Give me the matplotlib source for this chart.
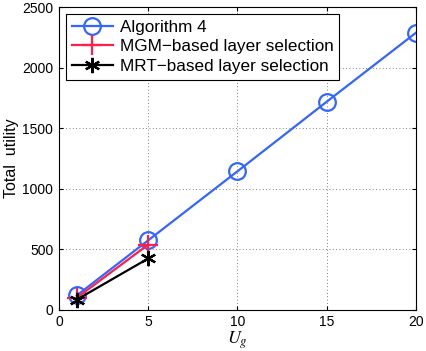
import numpy as np
import matplotlib
matplotlib.use("Agg")
import matplotlib.pyplot as plt

# data
ug_alg = [1, 5, 10, 15, 20]
util_alg = [120, 575, 1145, 1720, 2290]
ug_mgm = [1, 5]
util_mgm = [100, 540]
ug_mrt = [1, 5]
util_mrt = [85, 425]

labels = ["Algorithm 4", "MGM\u2212based layer selection", "MRT\u2212based layer selection"]

plt.rcParams['font.family'] = ['Liberation Sans', 'DejaVu Sans']
plt.rcParams['mathtext.fontset'] = 'stix'

fig = plt.figure(figsize=(4.27, 3.51), dpi=100)
ax = fig.add_axes([0.138, 0.117, 0.836, 0.862])

ax.plot(ug_alg, util_alg, color="#3366ff", lw=1.6, marker="o", ms=12,
        mfc="none", mew=1.6, label=labels[0])
ax.plot(ug_mgm, util_mgm, color="#ff1f4b", lw=1.6, marker="+", ms=14,
        mew=1.6, label=labels[1])
ax.plot(ug_mrt, util_mrt, color="black", lw=1.6, marker=(6, 2, 0), ms=11,
        mew=1.6, label=labels[2])

ax.set_xlim(0, 20)
ax.set_ylim(0, 2500)
ax.set_xticks([0, 5, 10, 15, 20])
ax.set_yticks([0, 500, 1000, 1500, 2000, 2500])
ax.grid(True, linestyle=(0, (1, 3)), color="#555555", linewidth=0.6)
ax.tick_params(direction="in", labelsize=10, length=3, top=True, right=True, pad=4)
for s in ax.spines.values():
    s.set_linewidth(0.8)

ax.set_xlabel("$U_g$", fontsize=13, labelpad=0)
ax.set_ylabel("Total  utility", fontsize=11.5)
ax.yaxis.set_label_coords(-0.113, 0.5)

leg = ax.legend(loc="upper left", fontsize=12.3, fancybox=False, edgecolor="black",
                framealpha=1, borderaxespad=0.4, handlelength=2.4,
                handletextpad=0.4, labelspacing=0.25, borderpad=0.35)
leg.get_frame().set_linewidth(0.8)

fig.savefig("out.png", dpi=100)
